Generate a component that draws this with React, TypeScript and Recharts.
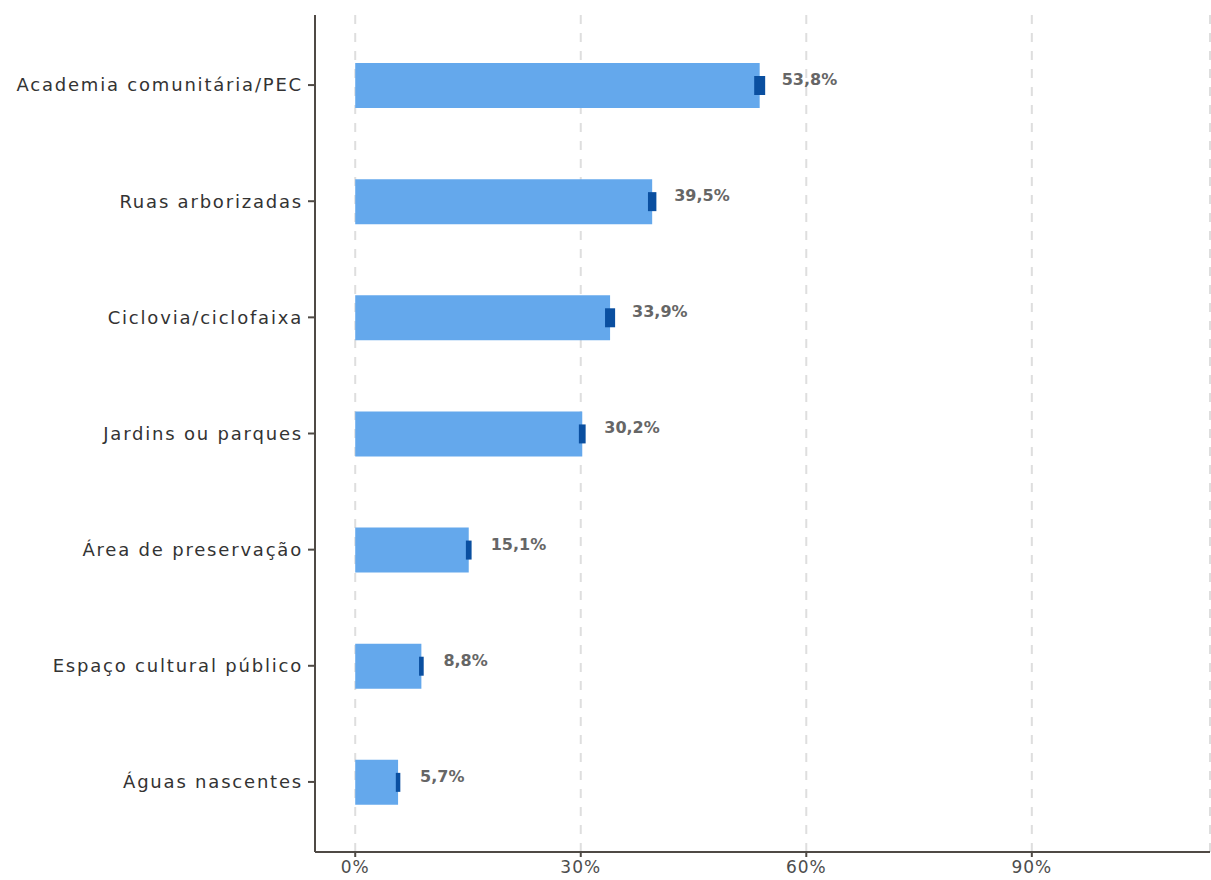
import { Bar, BarChart, CartesianGrid, ErrorBar, LabelList, XAxis, YAxis } from 'recharts';

const categories = [
  'Academia comunitária/PEC',
  'Ruas arborizadas',
  'Ciclovia/ciclofaixa',
  'Jardins ou parques',
  'Área de preservação',
  'Espaço cultural público',
  'Águas nascentes'
];
const percentages = [53.8, 39.5, 33.9, 30.2, 15.1, 8.8, 5.7];
const errors = [0.73, 0.56, 0.67, 0.45, 0.38, 0.31, 0.3];
const xTicks = [0, 30, 60, 90];

const data = categories.map((name, i) => ({
  name,
  value: percentages[i],
  err: errors[i]
}));

const FONT = '"DejaVu Sans", sans-serif';

const fmt = (v: number) => v.toFixed(1).replace('.', ',') + '%';

function ValueLabel(props: any) {
  const { x, y, width, height, value } = props;
  return (
    <text
      x={x + width + 22}
      y={y + height / 2 - 5}
      fill="#666666"
      fontFamily={FONT}
      fontSize={16}
      fontWeight="bold"
      dominantBaseline="middle"
    >
      {fmt(value)}
    </text>
  );
}

export default function App() {
  return (
    <div style={{ position: 'absolute', left: 0, top: 0 }}>
      <BarChart
        width={1211}
        height={880}
        data={data}
        layout="vertical"
        margin={{ top: 15, right: 1, bottom: 0, left: 0 }}
        barSize={45}
      >
        <CartesianGrid horizontal={false} stroke="#dedede" strokeWidth={2} strokeDasharray="9 9" />
        <XAxis
          type="number"
          domain={[-5.35, 113.7]}
          allowDataOverflow
          ticks={xTicks}
          tickFormatter={(v: number) => `${v}%`}
          height={28}
          tickSize={5}
          tickMargin={4}
          stroke="#4f4a45"
          strokeWidth={2}
          tick={{ fill: '#4d4d4d', fontFamily: FONT, fontSize: 17, letterSpacing: 1 }}
        />
        <YAxis
          type="category"
          dataKey="name"
          width={315}
          tickSize={7}
          tickMargin={5}
          stroke="#4f4a45"
          strokeWidth={2}
          padding={{ top: 12, bottom: 12 }}
          tick={{ fill: '#333333', fontFamily: FONT, fontSize: 18, letterSpacing: 1.8 }}
        />
        <Bar dataKey="value" fill="#64a8ec" isAnimationActive={false}>
          <ErrorBar dataKey="err" direction="x" width={0} stroke="#0a4fa0" strokeWidth={19} isAnimationActive={false} />
          <LabelList dataKey="value" content={ValueLabel} />
        </Bar>
      </BarChart>
    </div>
  );
}
